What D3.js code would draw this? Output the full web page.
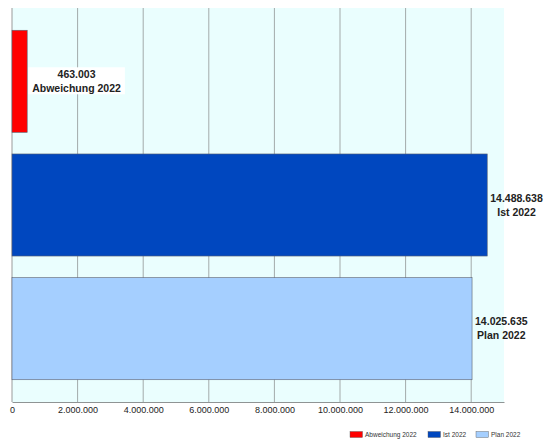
<!DOCTYPE html>
<html>
<head>
<meta charset="utf-8">
<script src="https://cdn.jsdelivr.net/npm/d3@7"></script>
<style>
  html, body { margin: 0; padding: 0; background: #ffffff; }
  svg { display: block; font-family: "Liberation Sans", Arial, sans-serif; }
</style>
</head>
<body>
<svg id="chart" width="544" height="439"></svg>
<script>
// ---- data ----
const categories = ["Abweichung 2022", "Ist 2022", "Plan 2022"];
const values = [463003, 14488638, 14025635];
const tickValues = [0, 2000000, 4000000, 6000000, 8000000, 10000000, 12000000, 14000000];
const xMax = 15000000;

// ---- styles ----
const colors = ["#ff0000", "#0047bf", "#a5cfff"];

(function () {
const svg = d3.select("#chart");
const locale = d3.formatLocale({ decimal: ",", thousands: ".", grouping: [3], currency: ["", " €"] });
const fmt = locale.format(",.0f");

const pLeft = 12, pRight = 504, pTop = 8, pBottom = 402;

const x = d3.scaleLinear().domain([0, xMax]).range([pLeft, pRight]);
const y = d3.scaleBand().domain(categories).range([pTop, pBottom]).paddingInner(0.175).paddingOuter(0.18);

// plot background
svg.append("rect").attr("x", pLeft).attr("y", pTop).attr("width", pRight - pLeft).attr("height", pBottom - pTop)
  .attr("fill", "#eafefe");

// gridlines
svg.append("g").selectAll("line").data(tickValues.filter(d => d > 0)).join("line")
  .attr("x1", d => x(d)).attr("x2", d => x(d)).attr("y1", pTop).attr("y2", pBottom)
  .attr("stroke", "#a3aaaa").attr("stroke-width", 1);

// axes
const xAxis = d3.axisBottom(x).tickValues(tickValues).tickFormat(fmt).tickSize(0).tickPadding(5);
const gx = svg.append("g").attr("transform", `translate(0,${pBottom})`).call(xAxis);
gx.select(".domain").attr("stroke", "#8f9494");
gx.selectAll("text").attr("font-size", 9).attr("fill", "#222").attr("font-family", "Liberation Sans, Arial, sans-serif");

svg.append("line").attr("x1", pLeft).attr("x2", pLeft).attr("y1", pTop).attr("y2", pBottom)
  .attr("stroke", "#9a9a9a").attr("stroke-width", 1);

// bars
const data = categories.map((c, i) => ({ c, v: values[i], col: colors[i] }));
svg.append("g").selectAll("rect").data(data).join("rect")
  .attr("x", x(0)).attr("y", d => y(d.c))
  .attr("width", d => x(d.v) - x(0)).attr("height", y.bandwidth())
  .attr("fill", d => d.col).attr("stroke", "#5a6070").attr("stroke-width", 0.6);

// labels
const lg = svg.append("g");
data.forEach((d, i) => {
  const cy = y(d.c) + y.bandwidth() / 2;
  const g = lg.append("g");
  const t1 = g.append("text").attr("text-anchor", "middle").attr("font-size", 10.5).attr("font-weight", "bold")
    .attr("fill", "#222").attr("y", cy - 7).attr("dy", "0.35em").text(fmt(d.v));
  const t2 = g.append("text").attr("text-anchor", "middle").attr("font-size", 10.5).attr("font-weight", "bold")
    .attr("fill", "#222").attr("y", cy + 7).attr("dy", "0.35em").text(d.c);
  const w = Math.max(t1.node().getComputedTextLength(), t2.node().getComputedTextLength());
  const pad = i === 0 ? 5 : 3;
  const cx = x(d.v) + pad + w / 2;
  t1.attr("x", cx); t2.attr("x", cx);
  if (i === 0) {
    g.insert("rect", "text").attr("x", cx - w / 2 - 4).attr("y", cy - 14).attr("width", w + 8).attr("height", 27)
      .attr("fill", "#ffffff");
  }
});

// legend
const legendX = [350, 428, 476];
const leg = svg.append("g");
data.forEach((d, i) => {
  leg.append("rect").attr("x", legendX[i]).attr("y", 431.5).attr("width", 12.5).attr("height", 6)
    .attr("fill", d.col).attr("stroke", "#555").attr("stroke-width", 0.4);
  leg.append("text").attr("x", legendX[i] + 15).attr("y", 434.7).attr("dy", "0.35em")
    .attr("font-size", 6.5).attr("fill", "#333").text(d.c);
});
})();
</script>
</body>
</html>
